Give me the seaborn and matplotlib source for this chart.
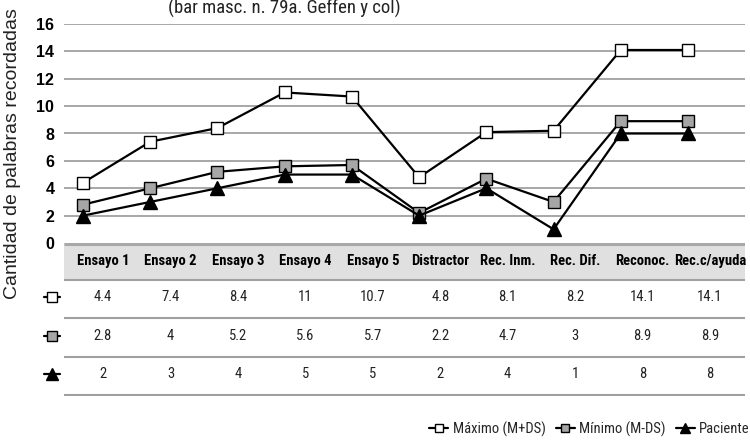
import numpy as np
import pandas as pd
import matplotlib
matplotlib.use("Agg")
import matplotlib.pyplot as plt
from matplotlib import font_manager
from matplotlib.lines import Line2D
import seaborn as sns

# ---------------- data ----------------
categories = ["Ensayo 1", "Ensayo 2", "Ensayo 3", "Ensayo 4", "Ensayo 5",
              "Distractor", "Rec. Inm.", "Rec. Dif.", "Reconoc.", "Rec.c/ayuda"]
maximo = [4.4, 7.4, 8.4, 11, 10.7, 4.8, 8.1, 8.2, 14.1, 14.1]
minimo = [2.8, 4, 5.2, 5.6, 5.7, 2.2, 4.7, 3, 8.9, 8.9]
paciente = [2, 3, 4, 5, 5, 2, 4, 1, 8, 8]
series_names = ["Máximo (M+DS)", "Mínimo (M-DS)", "Paciente"]
maximo_labels = ["4.4", "7.4", "8.4", "11", "10.7", "4.8", "8.1", "8.2", "14.1", "14.1"]
minimo_labels = ["2.8", "4", "5.2", "5.6", "5.7", "2.2", "4.7", "3", "8.9", "8.9"]
paciente_labels = ["2", "3", "4", "5", "5", "2", "4", "1", "8", "8"]
y_ticks = [0, 2, 4, 6, 8, 10, 12, 14, 16]
title = "(bar masc. n. 79a. Geffen y col)"
ylabel = "Cantidad de palabras recordadas"

# ---------------- fonts ----------------
available = {f.name for f in font_manager.fontManager.ttflist}
def pick(cands):
    for c in cands:
        if c in available:
            return c
    return "DejaVu Sans"
NARROW = pick(["Liberation Sans Narrow", "Roboto Condensed", "DejaVu Sans Condensed", "Liberation Sans"])
SANS = pick(["Liberation Sans", "Arial", "DejaVu Sans"])

sns.set_theme(style="white")
plt.rcParams["font.family"] = [SANS, "DejaVu Sans"]

W, H = 750, 440
fig = plt.figure(figsize=(7.5, 4.4), dpi=100)

def fx(px):
    return px / W
def fy(py):
    return 1 - py / H

# ---------------- chart axes ----------------
left_px, right_px, top_px, zero_px = 64, 745, 24, 243
ax = fig.add_axes([fx(left_px), fy(zero_px), fx(right_px - left_px), (zero_px - top_px) / H])

x_pos = np.arange(len(categories))
df = pd.DataFrame({
    "x": np.tile(x_pos, 3),
    "y": maximo + minimo + paciente,
    "serie": np.repeat(series_names, len(categories)),
})

styles = {
    "Máximo (M+DS)": dict(marker="s", mfc="white", ms=8.5),
    "Mínimo (M-DS)": dict(marker="s", mfc="#a6a6a6", ms=8.5),
    "Paciente": dict(marker="^", mfc="black", ms=10),
}
for i, name in enumerate(series_names):
    sub = df[df["serie"] == name]
    st = styles[name]
    sns.lineplot(data=sub, x="x", y="y", ax=ax, color="black", linewidth=1.6,
                 marker=st["marker"], markerfacecolor=st["mfc"], markeredgecolor="black",
                 markeredgewidth=1.0, markersize=st["ms"], zorder=3 + i, legend=False)

# x mapping: first point at px 83, last at px 688
step = (688 - 83) / (len(categories) - 1)
ax.set_xlim(-(83 - left_px) / step, (len(categories) - 1) + (right_px - 688) / step)
ax.set_ylim(0, 16)
ax.set_yticks(y_ticks)
ax.set_yticklabels([str(t) for t in y_ticks], fontsize=11.5, fontweight="bold", color="black")
ax.set_xticks([])
ax.set_xlabel("")
ax.set_ylabel("")
ax.tick_params(axis="y", length=0, pad=7)
for t in y_ticks[1:]:
    ax.axhline(t, color="#a0a0a0", linewidth=1.3, zorder=1)
for s in ax.spines.values():
    s.set_visible(False)
ax.patch.set_alpha(0)

# y label
fig.text(fx(13), fy(154), ylabel, rotation=90, ha="center", va="center",
         fontsize=14, color="#222222", family=[SANS, "DejaVu Sans"])

# title
fig.text(fx(284), fy(14), title, ha="center", va="baseline",
         fontsize=13.5, color="#222222", family=[NARROW, "DejaVu Sans"])

# ---------------- data table ----------------
table_bottom_px = 396
tax = fig.add_axes([fx(left_px), fy(table_bottom_px), fx(right_px - left_px),
                    (table_bottom_px - zero_px) / H])
col_step = (710 - 103) / (len(categories) - 1)
tax.set_xlim(-(103 - left_px) / col_step, (len(categories) - 1) + (right_px - 710) / col_step)
tax.set_ylim(table_bottom_px, zero_px)
tax.axis("off")
xl = tax.get_xlim()

# header band
tax.fill_between(xl, 243, 279, color="#e0e0e0", zorder=0, lw=0)
tax.plot(xl, [243.5, 243.5], color="#a8a8a8", lw=2.2, solid_capstyle="butt")
for yy in [279.5, 318, 357, 395]:
    tax.plot(xl, [yy, yy], color="#a0a0a0", lw=1.5, solid_capstyle="butt")

for i, c in enumerate(categories):
    tax.text(i, 261, c, ha="center", va="center", fontsize=10.5, fontweight="bold",
             color="black", family=[NARROW, "DejaVu Sans"])

rows = [(maximo_labels, 297), (minimo_labels, 336), (paciente_labels, 374)]
for labels, yy in rows:
    for i, v in enumerate(labels):
        tax.text(i, yy, v, ha="center", va="center", fontsize=10.5,
                 color="#222222", family=[NARROW, "DejaVu Sans"])

# row icons to the left of table
icon_c = xl[0] - (64 - 52) / col_step
half = 8 / col_step
for name, (labels, yy) in zip(series_names, rows):
    st = styles[name]
    tax.plot([icon_c - half, icon_c + half], [yy, yy], color="black", lw=1.6, clip_on=False)
    tax.plot([icon_c], [yy], marker=st["marker"], mfc=st["mfc"], mec="black", mew=1.0,
             ms=st["ms"] - 1.5, clip_on=False, color="black")

# ---------------- legend ----------------
handles = [Line2D([0], [0], color="black", lw=1.6, marker=styles[n]["marker"],
                  markerfacecolor=styles[n]["mfc"], markeredgecolor="black",
                  markersize=styles[n]["ms"] - 2.5) for n in series_names]
leg = fig.legend(handles, series_names, loc="center right", bbox_to_anchor=(fx(763), fy(429)),
                 ncol=3, frameon=False, handlelength=1.3, handletextpad=0.3,
                 columnspacing=0.7, prop={"family": [NARROW, "DejaVu Sans"], "size": 10.5})

fig.savefig("out.png", dpi=100)
